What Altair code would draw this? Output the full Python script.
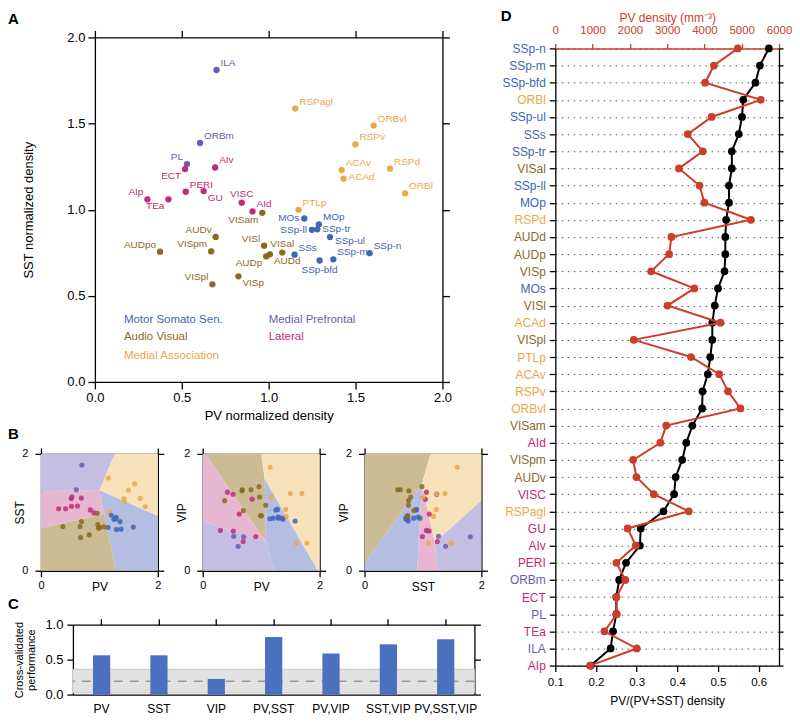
import json
import altair as alt
import pandas as pd

FONT = "Liberation Sans"
RED = "#cc3d2a"

# ---------------- groups ----------------
group_names = ["Motor Somato Sen.", "Audio Visual", "Medial Association", "Medial Prefrontal", "Lateral"]
group_colors = ["#4166b3", "#8a6a1f", "#eaa84a", "#6a5cad", "#c12a7c"]
region_colors = ["#b3bee2", "#cbbc94", "#f8e2b9", "#c4bfe2", "#e7b6d1"]
M, AV, MA, MP, LA = group_names

# ---------------- panel A / B data ----------------
areas = ["ILA", "RSPagl", "ORBvl", "ORBm", "RSPv", "PL", "ECT", "AIv", "ACAv", "ACAd",
         "RSPd", "ORBl", "PERI", "GU", "AIp", "TEa", "VISC", "AId", "PTLp", "VISam",
         "MOs", "MOp", "SSp-ll", "SSp-tr", "SSp-ul", "SSp-n", "SSp-m", "SSp-bfd", "SSs",
         "AUDv", "AUDpo", "VISpm", "VISl", "VISal", "AUDd", "AUDp", "VISpl", "VISp"]
area_group = [MP, MA, MA, MP, MA, MP, LA, LA, MA, MA,
              MA, MA, LA, LA, LA, LA, LA, LA, MA, AV,
              M, M, M, M, M, M, M, M, M,
              AV, AV, AV, AV, AV, AV, AV, AV, AV]
pv_norm = [0.70, 1.153, 1.604, 0.605, 1.499, 0.53, 0.519, 0.692, 1.42, 1.431,
           1.698, 1.785, 0.523, 0.626, 0.302, 0.423, 0.845, 0.907, 1.172, 0.963,
           1.205, 1.289, 1.249, 1.28, 1.353, 1.581, 1.372, 1.293, 1.149,
           0.695, 0.375, 0.669, 0.974, 1.078, 1.007, 0.986, 0.676, 0.826]
sst_norm = [1.811, 1.587, 1.488, 1.387, 1.379, 1.265, 1.236, 1.245, 1.23, 1.18,
            1.238, 1.095, 1.104, 1.108, 1.06, 1.06, 1.041, 0.99, 0.999, 0.982,
            0.949, 0.915, 0.883, 0.886, 0.841, 0.747, 0.712, 0.705, 0.739,
            0.842, 0.756, 0.758, 0.791, 0.751, 0.741, 0.729, 0.567, 0.613]
vip_norm = [0.58, 1.77, 0.47, 0.42, 1.32, 0.59, 1.31, 0.50, 1.05, 0.93,
            1.32, 0.47, 0.68, 0.97, 0.69, 1.345, 1.225, 0.587, 1.26, 1.44,
            0.90, 0.92, 1.04, 1.05, 0.90, 0.85, 0.88, 0.90, 0.89,
            1.03, 1.20, 1.37, 1.26, 1.12, 0.94, 0.94, 1.385, 1.385]
label_side = ["ur", "ur", "ur", "ur", "ur", "ul", "dl", "ur", "ur", "ru",
              "ur", "ur", "ur", "dr", "ul", "dl", "u", "ur", "ur", "dl",
              "l", "ur", "l", "r", "rd", "ur", "ur", "d", "ur",
              "ul", "ul", "ul", "ul", "u", "dr", "dl", "ul", "dr"]

legend_text = [M, AV, MA, MP, LA]
legend_x = [0.167, 0.167, 0.167, 1.0, 1.0]
legend_y = [0.36, 0.26, 0.15, 0.36, 0.26]

# decision regions (polygon vertices in data units)
b1_regions = {
    M: [(1.29, 0), (1.08, 0.97), (1.0, 1.38), (2, 0.94), (2, 0)],
    AV: [(0, 0), (0, 0.73), (1.08, 0.97), (1.29, 0)],
    MA: [(1.26, 2), (2, 2), (2, 0.94), (1.0, 1.38)],
    MP: [(0, 2), (1.26, 2), (1.0, 1.38), (0, 1.36)],
    LA: [(0, 1.36), (1.0, 1.38), (1.08, 0.97), (0, 0.73)],
}
b2_regions = {
    AV: [(0.04, 2), (1.0, 2), (1.06, 1.57), (1.08, 0.5)],
    MA: [(1.0, 2), (2, 2), (2, 0), (1.97, 0), (1.06, 1.57)],
    M: [(1.06, 1.57), (1.97, 0), (1.23, 0), (1.08, 0.5)],
    LA: [(0, 2), (0.04, 2), (1.08, 0.5), (0, 0.84)],
    MP: [(0, 0.84), (1.08, 0.5), (1.23, 0), (0, 0)],
}
b3_regions = {
    AV: [(0, 2), (1.13, 2), (0.98, 1.48), (0, 0.13)],
    MA: [(1.13, 2), (2, 2), (2, 1.2), (1.2, 0.48), (0.98, 1.48)],
    M: [(0, 0.13), (0.98, 1.48), (0.9, 0), (0, 0)],
    LA: [(0.98, 1.48), (1.2, 0.48), (1.25, 0), (0.9, 0)],
    MP: [(1.2, 0.48), (2, 1.2), (2, 0), (1.25, 0)],
}

# ---------------- panel C data ----------------
feature_sets = ["PV", "SST", "VIP", "PV,SST", "PV,VIP", "SST,VIP", "PV,SST,VIP"]
performance = [0.562, 0.562, 0.224, 0.824, 0.586, 0.719, 0.79]
chance_level = [0.19]
chance_low = [0.024]
chance_high = [0.362]

# ---------------- panel D data ----------------
d_order = ["SSp-n", "SSp-m", "SSp-bfd", "ORBl", "SSp-ul", "SSs", "SSp-tr", "VISal", "SSp-ll", "MOp",
           "RSPd", "AUDd", "AUDp", "VISp", "MOs", "VISl", "ACAd", "VISpl", "PTLp", "ACAv",
           "RSPv", "ORBvl", "VISam", "AId", "VISpm", "AUDv", "VISC", "RSPagl", "GU", "AIv",
           "PERI", "ORBm", "ECT", "PL", "TEa", "ILA", "AIp"]
d_ratio = [0.625, 0.603, 0.592, 0.562, 0.559, 0.551, 0.534, 0.534, 0.527, 0.527,
           0.520, 0.518, 0.518, 0.516, 0.500, 0.492, 0.486, 0.486, 0.481, 0.475,
           0.462, 0.461, 0.437, 0.422, 0.412, 0.396, 0.392, 0.366, 0.310, 0.308,
           0.274, 0.257, 0.250, 0.250, 0.242, 0.236, 0.187]
d_pv_density = [4895, 4254, 4018, 5509, 4193, 3553, 3956, 3316, 3868, 4000,
                5246, 3114, 3053, 2570, 3728, 3009, 4430, 2105, 3640, 4395,
                4632, 4965, 2974, 2816, 2088, 2175, 2640, 3579, 1939, 2158,
                1640, 1877, 1640, 1649, 1316, 2184, 930]

# ---------------- helpers ----------------
color_enc = alt.Color("group:N", scale=alt.Scale(domain=group_names, range=group_colors), legend=None)


def poly_band(verts):
    xs = sorted(set(v[0] for v in verts))
    n = len(verts)
    out = []
    for x in xs:
        ys = []
        for i in range(n):
            x1, y1 = verts[i]
            x2, y2 = verts[(i + 1) % n]
            if x1 == x2:
                if abs(x - x1) < 1e-9:
                    ys += [y1, y2]
            elif min(x1, x2) - 1e-9 <= x <= max(x1, x2) + 1e-9:
                ys.append(y1 + (x - x1) * (y2 - y1) / (x2 - x1))
        out.append((x, min(ys), max(ys)))
    return out


def spacer(w, h=1):
    return alt.Chart(pd.DataFrame({"s": [0]})).mark_point(opacity=0, size=1).properties(width=w, height=h)


def letter(t, off):
    return alt.TitleParams(t, anchor="start", frame="bounds", offset=off)


# ---------------- panel A ----------------
dfA = pd.DataFrame({"area": areas, "group": area_group, "PV": pv_norm,
                    "SST": sst_norm, "VIP": vip_norm, "side": label_side})
sA = alt.Scale(domain=[0, 2], nice=False, zero=False)
tA = [0, 0.5, 1, 1.5, 2]

pointsA = alt.Chart(dfA).mark_circle(size=40, opacity=1).encode(
    x=alt.X("PV:Q", scale=sA, axis=alt.Axis(values=tA, format=".1f", title="PV normalized density",
                                             tickSize=7, labelPadding=3, titlePadding=5,
                                             labelFontSize=13, titleFontSize=13, labelFlush=False)),
    y=alt.Y("SST:Q", scale=sA, axis=alt.Axis(values=tA, format=".1f", title="SST normalized density",
                                              tickSize=7, labelPadding=3, titlePadding=31,
                                              labelFontSize=13, titleFontSize=13, labelFlush=False)),
    color=color_enc,
)

side_specs = {"ur": ("left", 4, -7), "ul": ("right", -4, -7), "r": ("left", 5, 0),
              "rd": ("left", 5, 4), "ru": ("left", 5, -2), "l": ("right", -5, 0),
              "dr": ("left", 4, 7), "dl": ("right", -4, 7), "u": ("center", 0, -9),
              "d": ("center", 0, 9)}
label_layers = []
for side, (al, dx, dy) in side_specs.items():
    label_layers.append(
        alt.Chart(dfA).transform_filter(alt.datum.side == side)
        .mark_text(align=al, dx=dx, dy=dy, fontSize=10, baseline="middle", font=FONT)
        .encode(x=alt.X("PV:Q", scale=sA, axis=None), y=alt.Y("SST:Q", scale=sA, axis=None),
                text="area:N", color=color_enc)
    )

legendA = alt.Chart(pd.DataFrame({"group": legend_text, "lx": legend_x, "ly": legend_y})).mark_text(
    align="left", baseline="middle", fontSize=11.5, font=FONT
).encode(x=alt.X("lx:Q", scale=sA, axis=None), y=alt.Y("ly:Q", scale=sA, axis=None),
         text="group:N", color=color_enc)

frameA = alt.Chart(pd.DataFrame({"v": [0, 2]})).mark_point(opacity=0).encode(
    x=alt.X("v:Q", scale=sA, axis=alt.Axis(orient="top", values=tA, labels=False, title=None, tickSize=7)),
    y=alt.Y("v:Q", scale=sA, axis=alt.Axis(orient="right", values=tA, labels=False, title=None, tickSize=7)),
)

panelA = alt.layer(pointsA, *label_layers, legendA, frameA).resolve_axis(
    x="independent", y="independent"
).properties(width=348, height=345)


# ---------------- panel B ----------------
def make_b(xf, yf, regions, xtitle, ytitle):
    rows = []
    for g, verts in regions.items():
        for x, lo, hi in poly_band(verts):
            rows.append({"group": g, "x": x, "lo": lo, "hi": hi})
    dfR = pd.DataFrame(rows)
    sB = alt.Scale(domain=[0, 2], nice=False, zero=False)
    reg = alt.Chart(dfR).mark_area(opacity=1, interpolate="linear").encode(
        x=alt.X("x:Q", scale=sB, axis=alt.Axis(values=[0, 2], format="d", title=xtitle, tickSize=6,
                                                labelPadding=3, titlePadding=-9, labelFontSize=11,
                                                titleFontSize=12, labelFlush=False)),
        y=alt.Y("hi:Q", scale=sB, stack=None,
                axis=alt.Axis(values=[0, 2], format="d", title=ytitle, tickSize=6, labelPadding=7,
                              titlePadding=-5, labelFontSize=11, titleFontSize=12, labelFlush=False)),
        y2="lo:Q",
        fill=alt.Fill("group:N", scale=alt.Scale(domain=group_names, range=region_colors), legend=None),
        detail="group:N",
    )
    pts = alt.Chart(dfA).mark_circle(size=26, opacity=0.85).encode(
        x=alt.X(f"{xf}:Q", scale=sB, axis=None),
        y=alt.Y(f"{yf}:Q", scale=sB, axis=None),
        color=color_enc,
    )
    frame = alt.Chart(pd.DataFrame({"v": [0, 2]})).mark_point(opacity=0).encode(
        x=alt.X("v:Q", scale=sB, axis=alt.Axis(orient="top", values=[0, 2], labels=False, title=None, tickSize=6)),
        y=alt.Y("v:Q", scale=sB, axis=alt.Axis(orient="right", values=[0, 2], labels=False, title=None, tickSize=6)),
    )
    return alt.layer(reg, pts, frame).resolve_axis(x="independent", y="independent").properties(
        width=117, height=117)


b1 = make_b("PV", "SST", b1_regions, "PV", "SST")
b2 = make_b("PV", "VIP", b2_regions, "PV", "VIP")
b3 = make_b("SST", "VIP", b3_regions, "SST", "VIP")
panelB = alt.hconcat(b1, b2, b3, spacing=10)

# ---------------- panel C ----------------
dfC = pd.DataFrame({"feat": feature_sets, "perf": performance})
xC = alt.Scale(domain=feature_sets, paddingInner=0.7, paddingOuter=0.35)
yC = alt.Scale(domain=[0, 1], nice=False)

bandC = alt.Chart(pd.DataFrame({"lo": chance_low, "hi": chance_high})).mark_rect(
    color="#e2e2e2", stroke="#c8c8c8", strokeWidth=1
).encode(y=alt.Y("lo:Q", scale=yC, axis=None), y2="hi:Q")
chanceC = alt.Chart(pd.DataFrame({"c": chance_level})).mark_rule(
    color="#9a9a9a", strokeDash=[9, 7], strokeWidth=1.6
).encode(y=alt.Y("c:Q", scale=yC, axis=None))
barsC = alt.Chart(dfC).mark_bar(color="#4a70be").encode(
    x=alt.X("feat:N", scale=xC, axis=alt.Axis(title=None, ticks=False, labelAngle=0, labelPadding=9,
                                               labelFontSize=12)),
    y=alt.Y("perf:Q", scale=yC, axis=alt.Axis(values=[0, 0.5, 1], format=".1f",
                                              title=["Cross-validated", "performance"],
                                              tickSize=6, labelPadding=4, titlePadding=8,
                                              labelFontSize=13, titleFontSize=11, titleLineHeight=12,
                                              labelFlush=False)),
)
frameC = alt.Chart(dfC).mark_point(opacity=0).encode(
    x=alt.X("feat:N", scale=xC, axis=alt.Axis(orient="top", labels=False, title=None, tickSize=6)),
    y=alt.Y("perf:Q", scale=yC, axis=alt.Axis(orient="right", values=[0, 0.5, 1], labels=False,
                                              title=None, tickSize=6)),
)
panelC = alt.layer(bandC, chanceC, barsC, frameC).resolve_axis(
    x="independent", y="independent"
).properties(width=402, height=70)

# ---------------- panel D ----------------
dfD = pd.DataFrame({"area": d_order, "ratio": d_ratio, "pvd": d_pv_density,
                    "idx": list(range(len(d_order)))})
yD = alt.Scale(domain=d_order, padding=0)

parts = []
for g, c in zip(group_names, group_colors):
    names = [a for a, gg in zip(areas, area_group) if gg == g]
    parts.append(f"indexof({json.dumps(names)}, datum.value) >= 0 ? '{c}'")
label_expr = " : ".join(parts) + " : 'black'"

blackD = alt.Chart(dfD).mark_line(
    color="black", strokeWidth=2,
    point=alt.OverlayMarkDef(color="black", size=60, filled=True, opacity=1)
).encode(
    x=alt.X("ratio:Q", scale=alt.Scale(domain=[0.1, 0.65], nice=False, zero=False),
            axis=alt.Axis(values=[0.1, 0.2, 0.3, 0.4, 0.5, 0.6], format=".1f",
                          title="PV/(PV+SST) density", tickSize=6, labelPadding=5, titlePadding=7,
                          labelFontSize=11.5, titleFontSize=12, labelFlush=False)),
    y=alt.Y("area:N", scale=yD,
            axis=alt.Axis(title="D", titleAngle=0, titleX=-55, titleY=-33, titleAlign="left",
                          titleBaseline="middle", titleFontSize=15, titleFontWeight="bold",
                          grid=True, gridDash=[1.5, 4.5], gridColor="#555555",
                          gridWidth=1, tickSize=6, labelPadding=4, labelFontSize=12,
                          labelOverlap=False, labelColor=alt.ExprRef(label_expr))),
    order="idx:Q",
)
redD = alt.Chart(dfD).mark_line(
    color=RED, strokeWidth=2,
    point=alt.OverlayMarkDef(color=RED, size=60, filled=True, opacity=1)
).encode(
    x=alt.X("pvd:Q", scale=alt.Scale(domain=[0, 6000], nice=False),
            axis=alt.Axis(orient="top", values=[0, 1000, 2000, 3000, 4000, 5000, 6000], format="d",
                          title="PV density (mm⁻³)", titleColor=RED, labelColor=RED, tickColor=RED,
                          domainColor=RED, domainWidth=1.5, tickSize=5, labelPadding=8,
                          titlePadding=0, labelFontSize=11.5, titleFontSize=12, labelFlush=False,
                          labelOverlap=False)),
    y=alt.Y("area:N", scale=yD, axis=None),
    order="idx:Q",
)
frameD = alt.Chart(dfD).mark_point(opacity=0).encode(
    y=alt.Y("area:N", scale=yD, axis=alt.Axis(orient="right", labels=False, title=None,
                                              tickSize=4, grid=False)),
)
panelD = alt.layer(blackD, redD, frameD).resolve_scale(x="independent").resolve_axis(
    x="independent", y="independent"
).properties(width=224, height=618)

# ---------------- assemble ----------------
rowA = alt.hconcat(spacer(14), panelA, spacing=0).properties(title=letter("A", 3))
rowB = alt.hconcat(spacer(5), panelB, spacing=0).properties(title=letter("B", 5))
rowC = alt.hconcat(spacer(5), panelC, spacing=0).properties(title=letter("C", 6))
left = alt.vconcat(rowA, rowB, rowC, spacing=4)
colD = alt.vconcat(spacer(1), panelD, spacing=-30)
chart = alt.hconcat(left, colD, spacing=12).properties(padding=0)
chart = chart.configure_view(stroke=None).configure_axis(
    labelFont=FONT, titleFont=FONT, labelColor="black", titleColor="black",
    domainColor="black", tickColor="black", titleFontWeight="normal",
    grid=False, domainWidth=1.3, tickWidth=1.3,
).configure_title(font=FONT, fontSize=15, fontWeight="bold", color="black")

chart.save("out.html", embed_options={"renderer": "svg", "actions": False})
